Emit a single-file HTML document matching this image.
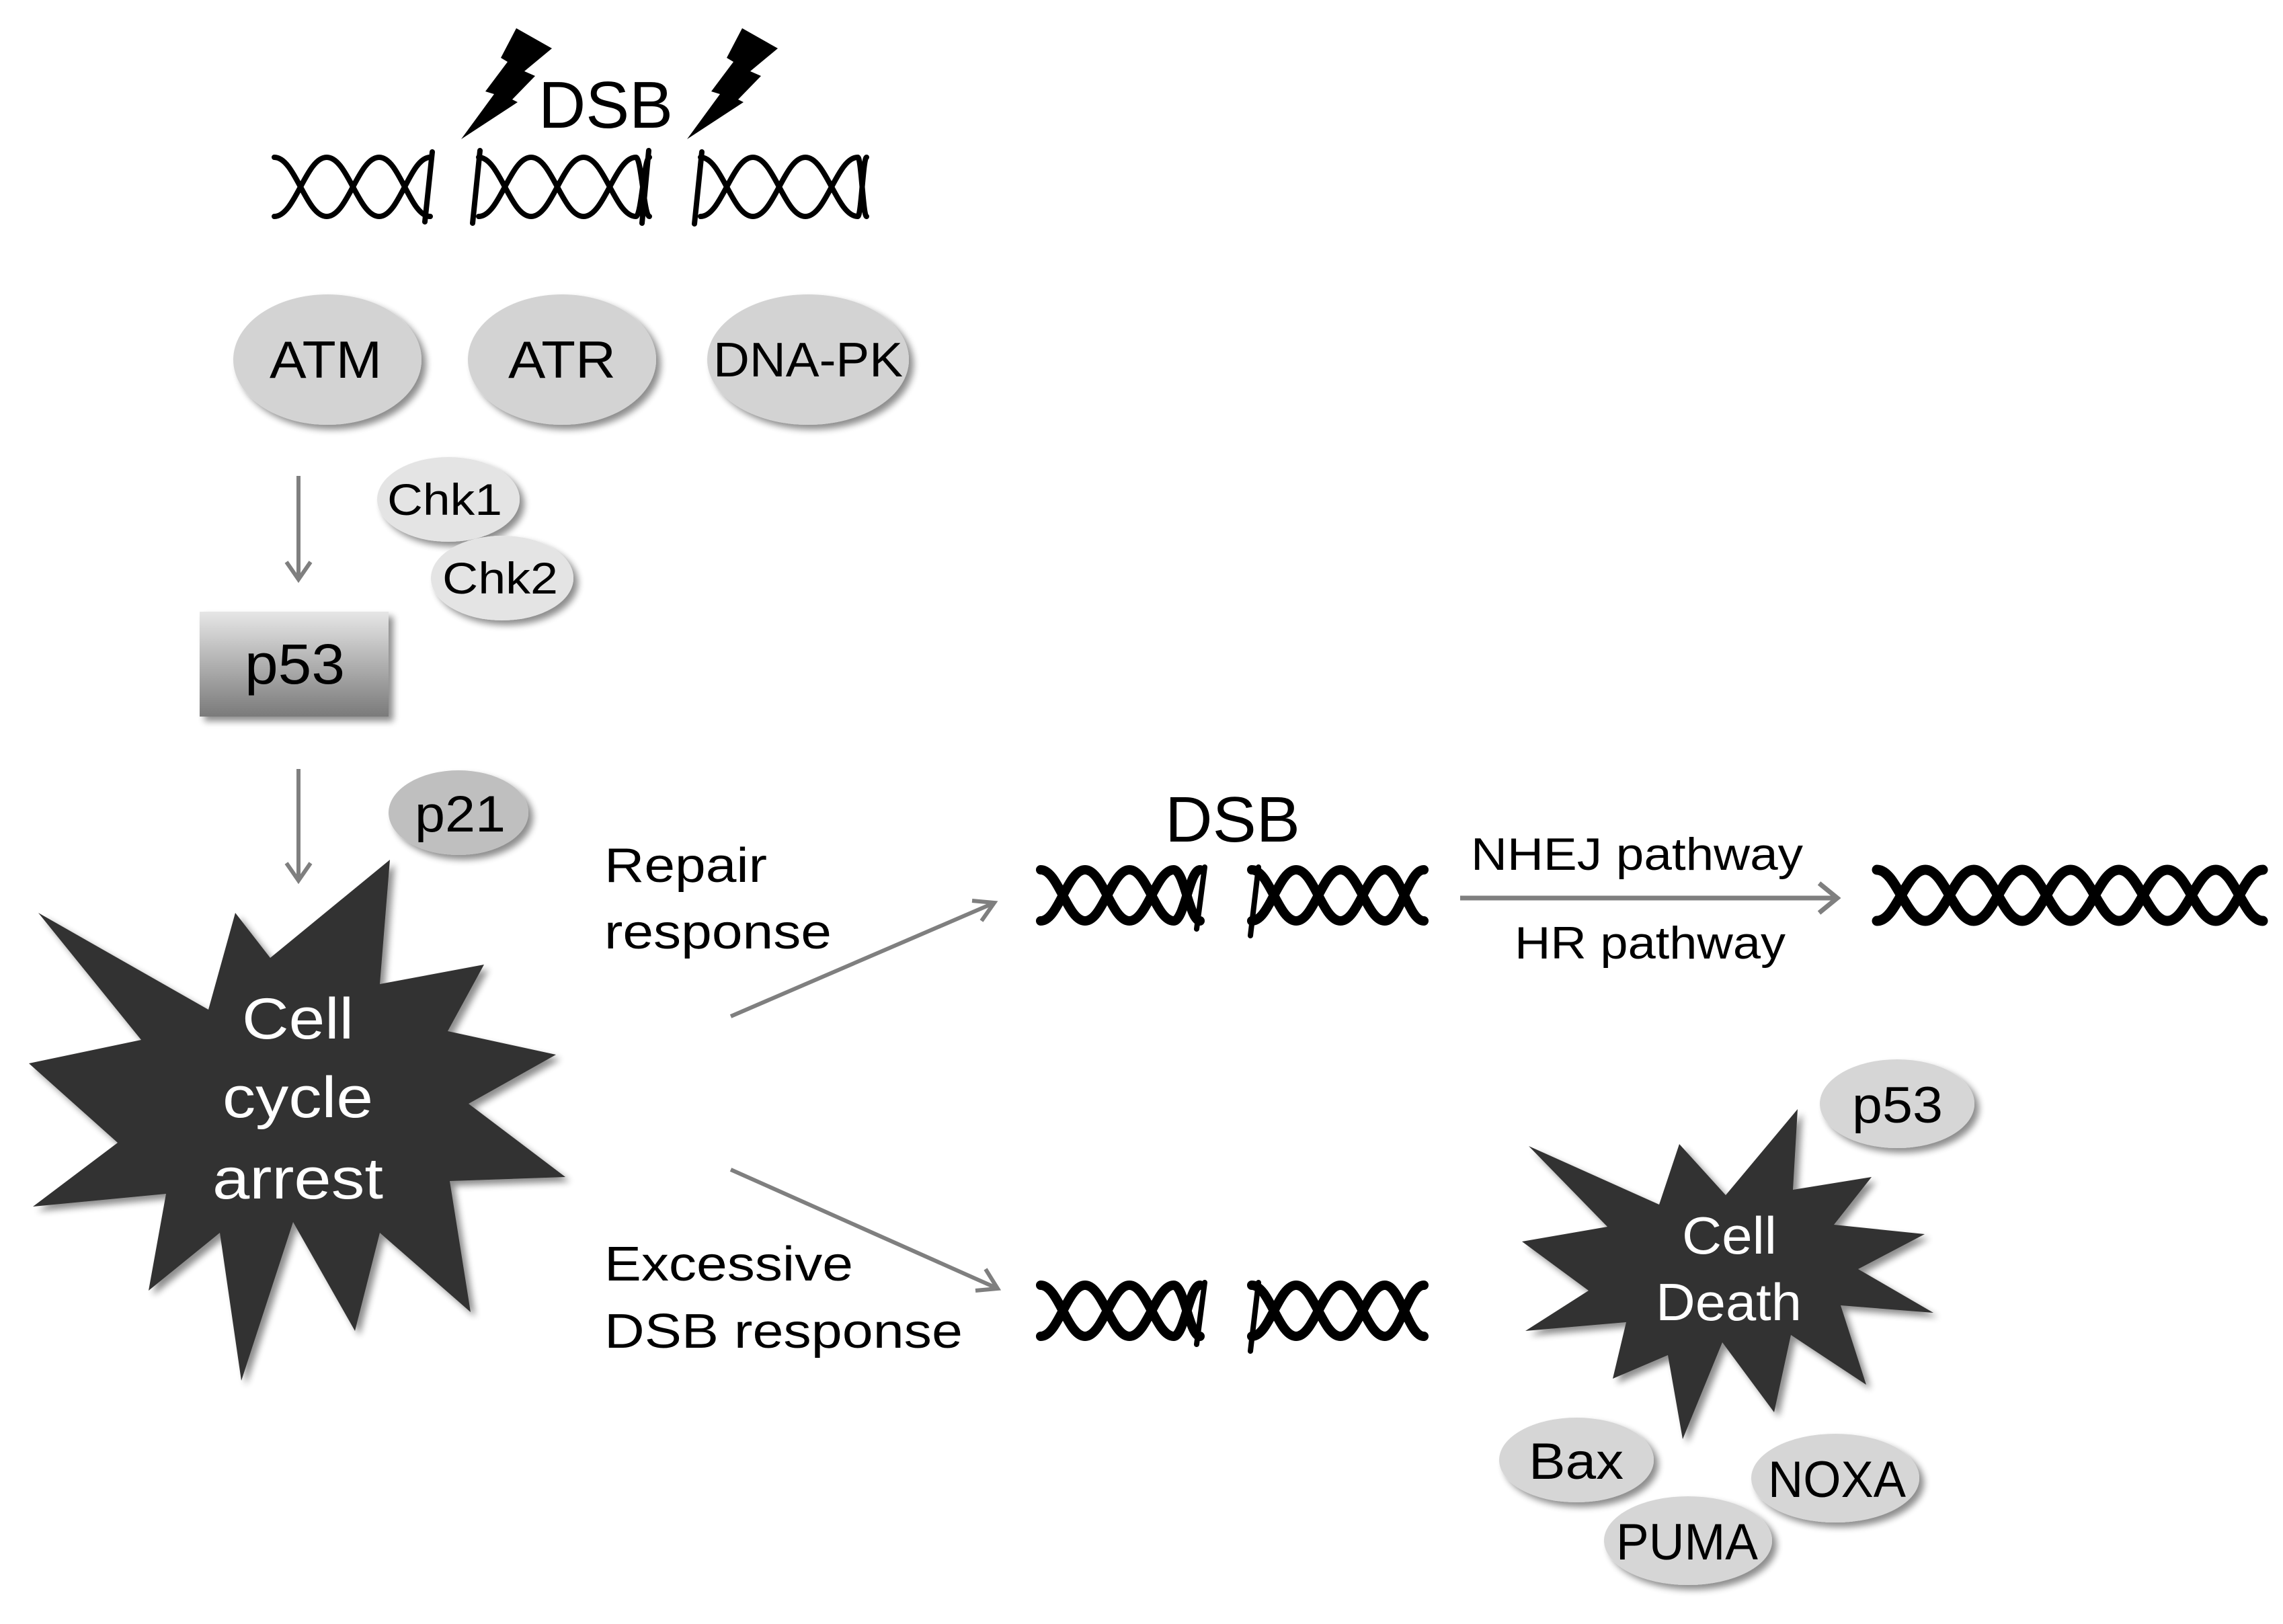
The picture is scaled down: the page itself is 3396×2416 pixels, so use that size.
<!DOCTYPE html>
<html><head><meta charset="utf-8"><style>
html,body{margin:0;padding:0;background:#fff;}
svg{display:block;}
text{font-family:"Liberation Sans",Arial,sans-serif;}
</style></head><body>
<svg id="s" width="3396" height="2416" viewBox="0 0 3396 2416" xmlns="http://www.w3.org/2000/svg">
<defs>
<filter id="sh" x="-20%" y="-20%" width="150%" height="150%">
<feGaussianBlur in="SourceAlpha" stdDeviation="5"/>
<feOffset dx="7" dy="7" result="o"/>
<feComponentTransfer><feFuncA type="linear" slope="0.45"/></feComponentTransfer>
<feMerge><feMergeNode/><feMergeNode in="SourceGraphic"/></feMerge>
</filter>
<linearGradient id="g53" x1="0" y1="0" x2="0" y2="1">
<stop offset="0" stop-color="#e6e6e6"/><stop offset="1" stop-color="#7a7a7a"/>
</linearGradient>
</defs>

<polygon points="768,42 821,72 780,106 796,113 762,148 770,152 686,207 735,140 722,136 755,92 745,86" fill="#000"/>
<polygon transform="translate(336,0)" points="768,42 821,72 780,106 796,113 762,148 770,152 686,207 735,140 722,136 755,92 745,86" fill="#000"/>
<text x="801" y="190" font-size="98" textLength="200" lengthAdjust="spacingAndGlyphs">DSB</text>

<g id="dna" fill="none" stroke="#000" stroke-linecap="round"></g>

<g filter="url(#sh)" fill="#d3d3d3">
<ellipse cx="487" cy="535" rx="140" ry="97"/>
<ellipse cx="836" cy="535" rx="140" ry="97"/>
<ellipse cx="1202" cy="535" rx="150" ry="97"/>
</g>
<text x="401" y="562" font-size="78" textLength="167" lengthAdjust="spacingAndGlyphs">ATM</text>
<text x="756" y="562" font-size="78" textLength="160" lengthAdjust="spacingAndGlyphs">ATR</text>
<text x="1061" y="560" font-size="72" textLength="282" lengthAdjust="spacingAndGlyphs">DNA-PK</text>

<g stroke="#7f7f7f" stroke-width="6" fill="none">
<line x1="444" y1="708" x2="444" y2="860"/>
<polyline points="426,836 444,862 462,836"/>
<line x1="444" y1="1144" x2="444" y2="1308"/>
<polyline points="426,1284 444,1310 462,1284"/>
<line x1="1087" y1="1512" x2="1477" y2="1344"/>
<polyline points="1446,1340 1479,1343 1460,1370"/>
<line x1="1087" y1="1740" x2="1482" y2="1916"/>
<polyline points="1466,1888 1484,1917 1451,1920"/>
<line x1="2172" y1="1336" x2="2730" y2="1336" stroke-width="7"/>
<polyline points="2706,1314 2733,1336 2706,1358" stroke-width="7"/>
</g>

<g filter="url(#sh)" fill="#e4e4e4">
<ellipse cx="667" cy="743" rx="106" ry="63"/>
<ellipse cx="747" cy="860" rx="106" ry="63"/>
</g>
<text x="576" y="766" font-size="66" textLength="171" lengthAdjust="spacingAndGlyphs">Chk1</text>
<text x="658" y="883" font-size="66" textLength="172" lengthAdjust="spacingAndGlyphs">Chk2</text>

<rect x="297" y="910" width="281" height="156" fill="url(#g53)" filter="url(#sh)"/>
<text x="364" y="1017" font-size="84" textLength="149" lengthAdjust="spacingAndGlyphs">p53</text>

<ellipse cx="682" cy="1209" rx="104" ry="63" fill="#bfbfbf" filter="url(#sh)"/>
<text x="617" y="1237" font-size="76" textLength="135" lengthAdjust="spacingAndGlyphs">p21</text>

<polygon filter="url(#sh)" fill="#333231" points="580,1279 565,1464 720,1435 666,1534 827,1569 697,1642 841,1751 669,1757 700,1952 565,1834 528,1980 436,1818 359,2054 327,1834 221,1920 247,1776 49,1795 175,1700 43,1582 210,1547 57,1358 310,1502 350,1358 402,1425"/>
<g fill="#fff" font-size="86">
<text x="360" y="1545" textLength="166" lengthAdjust="spacingAndGlyphs">Cell</text>
<text x="331" y="1662" textLength="224" lengthAdjust="spacingAndGlyphs">cycle</text>
<text x="316" y="1783" textLength="254" lengthAdjust="spacingAndGlyphs">arrest</text>
</g>

<g font-size="72">
<text x="899" y="1312" textLength="242" lengthAdjust="spacingAndGlyphs">Repair</text>
<text x="899" y="1411" textLength="338" lengthAdjust="spacingAndGlyphs">response</text>
<text x="899" y="1905" textLength="370" lengthAdjust="spacingAndGlyphs">Excessive</text>
<text x="899" y="2005" textLength="533" lengthAdjust="spacingAndGlyphs">DSB response</text>
</g>
<text x="1733" y="1252" font-size="96" textLength="201" lengthAdjust="spacingAndGlyphs">DSB</text>
<text x="2188" y="1294" font-size="68" textLength="494" lengthAdjust="spacingAndGlyphs">NHEJ pathway</text>
<text x="2253" y="1426" font-size="68" textLength="403" lengthAdjust="spacingAndGlyphs">HR pathway</text>

<polygon filter="url(#sh)" fill="#333231" points="2674,1650 2667,1770 2784,1751 2728,1822 2863,1836 2764,1888 2876,1953 2738,1942 2776,2060 2664,1986 2639,2101 2562,1997 2503,2141 2481,2016 2399,2051 2419,1967 2269,1980 2363,1920 2264,1847 2391,1825 2274,1705 2468,1792 2498,1702 2567,1778"/>
<g fill="#fff" font-size="78">
<text x="2502" y="1865" textLength="141" lengthAdjust="spacingAndGlyphs">Cell</text>
<text x="2463" y="1964" textLength="217" lengthAdjust="spacingAndGlyphs">Death</text>
</g>

<g filter="url(#sh)" fill="#d6d6d6">
<ellipse cx="2822" cy="1642" rx="115" ry="66"/>
<ellipse cx="2345" cy="2172" rx="115" ry="63"/>
<ellipse cx="2730" cy="2199" rx="125" ry="66"/>
<ellipse cx="2511" cy="2292" rx="125" ry="66"/>
</g>
<g font-size="76">
<text x="2755" y="1670" textLength="135" lengthAdjust="spacingAndGlyphs">p53</text>
<text x="2274" y="2200" textLength="141" lengthAdjust="spacingAndGlyphs">Bax</text>
<text x="2630" y="2227" textLength="205" lengthAdjust="spacingAndGlyphs">NOXA</text>
<text x="2404" y="2320" textLength="211" lengthAdjust="spacingAndGlyphs">PUMA</text>
</g>
</svg>
<script>
(function(){
var g=document.getElementById('dna');
function helix(x0,x1,c,a,h,w,phase){
  for(var s=0;s<2;s++){
    var sign=(s==0?1:-1)*(phase?-1:1);
    var x=x0,y=c+a*sign,d='M'+x+','+y;
    while(x<x1-1){
      var nx=Math.min(x+h,x1);var ny=c-(y-c);
      d+=' C'+(x+(nx-x)*0.4)+','+y+' '+(x+(nx-x)*0.6)+','+ny+' '+nx+','+ny;
      x=nx;y=ny;
    }
    var p=document.createElementNS('http://www.w3.org/2000/svg','path');
    p.setAttribute('d',d);p.setAttribute('stroke-width',w);g.appendChild(p);
  }
}
function line(x1,y1,x2,y2,w){
  var l=document.createElementNS('http://www.w3.org/2000/svg','line');
  l.setAttribute('x1',x1);l.setAttribute('y1',y1);l.setAttribute('x2',x2);l.setAttribute('y2',y2);
  l.setAttribute('stroke-width',w);g.appendChild(l);
}
helix(408,640,278,44,78,8,0);
helix(712,966,278,44,78,8,1);
helix(1042,1289,278,44,78,8,0);
line(643,226,632,330,8);line(714,224,703,332,8);line(965,224,955,332,8);line(1044,226,1033,333,8);
helix(1548,1785,1332,38,66,14,0);
helix(1862,2118,1332,38,66,14,1);
line(1792,1290,1780,1382,8);line(1872,1290,1860,1392,8);
helix(2792,3366,1332,38,72,15,0);
helix(1548,1785,1950,38,66,14,0);
helix(1862,2118,1950,38,66,14,1);
line(1792,1908,1780,2000,8);line(1872,1908,1860,2010,8);
})();
</script>
</body></html>
